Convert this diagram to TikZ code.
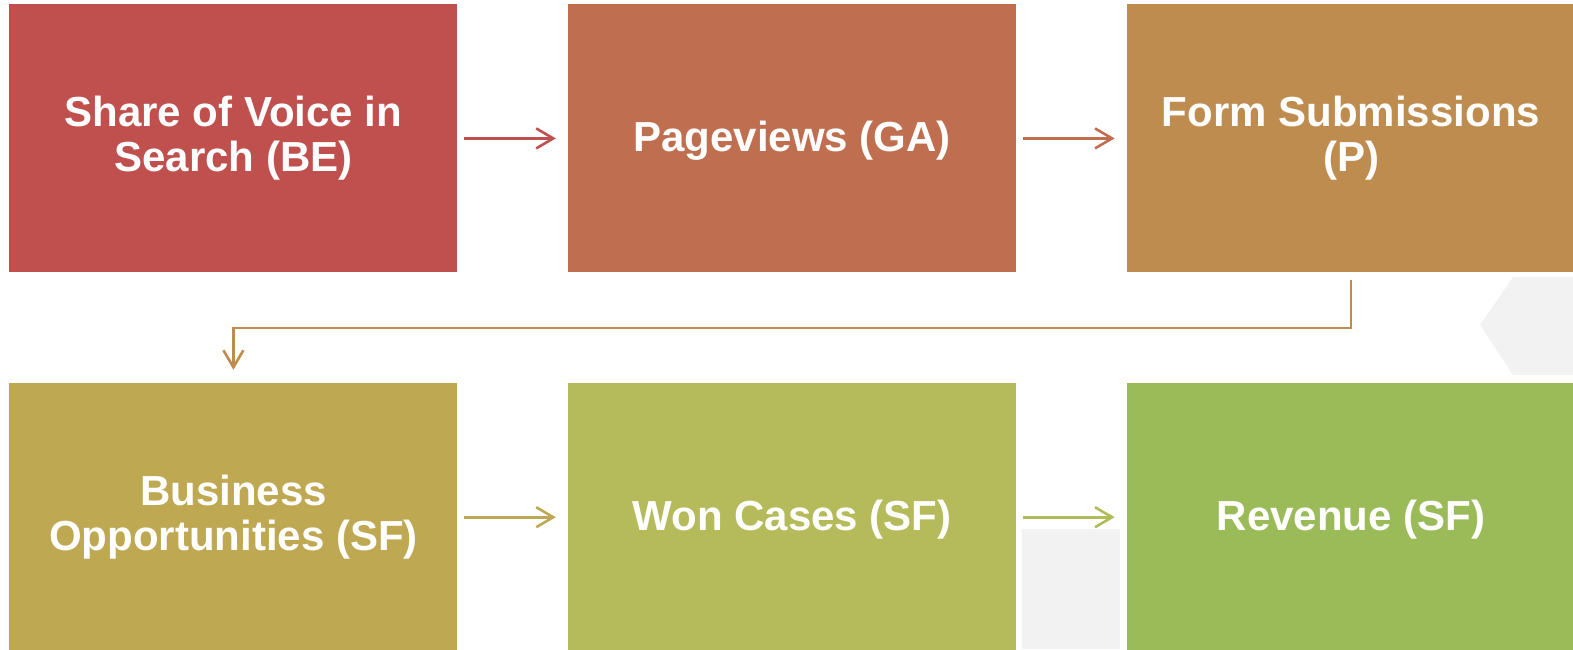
\documentclass[tikz,border=0pt]{standalone}
\usepackage{fontspec}
\setmainfont{Liberation Sans}
\usepackage{xcolor}
\usetikzlibrary{arrows.meta, positioning}

\definecolor{stepA}{RGB}{192,80,77}
\definecolor{stepB}{RGB}{192,110,80}
\definecolor{stepC}{RGB}{191,140,80}
\definecolor{stepD}{RGB}{190,168,82}
\definecolor{stepE}{RGB}{181,187,90}
\definecolor{stepF}{RGB}{155,187,89}
\definecolor{faint}{RGB}{242,242,242}

\begin{document}
\begin{tikzpicture}[
  x=0.5pt, y=-0.5pt,
  node distance=55.5pt and 55pt,
  stage/.style={minimum width=224pt, minimum height=134pt, inner sep=0pt,
                align=center, text=white,
                font=\fontsize{21}{22.5}\selectfont\bfseries,
                execute at begin node={\rule{0pt}{18pt}}},
  flow/.style={-{Straight Barb[length=8.5pt, width=10pt]}, line width=1.3pt,
               shorten <=3pt, shorten >=6pt},
]
\useasboundingbox (0,0) rectangle (1573,649);

% --- faint shapes sitting behind the boxes ---
\fill[faint] (1513,277) -- (1573,277) -- (1573,375) -- (1513,375) -- (1480,325) -- cycle;
\fill[faint] (1022,529) rectangle (1120,649);

% --- top row ---
\node[stage, fill=stepA, anchor=north west] (sov) at (9,4)
  {Share of Voice in\\Search (BE)};
\node[stage, fill=stepB, right=of sov] (views) {Pageviews (GA)};
\node[stage, fill=stepC, right=of views] (forms) {Form Submissions\\(P)};

% --- bottom row ---
\node[stage, fill=stepD, below=55pt of sov] (opps) {Business\\Opportunities (SF)};
\node[stage, fill=stepE, right=of opps] (won) {Won Cases (SF)};
\node[stage, fill=stepF, right=of won] (revenue) {Revenue (SF)};

% --- connectors ---
\draw[flow, stepA] (sov) -- (views);
\draw[flow, stepB] (views) -- (forms);
\draw[flow, stepC, shorten <=3.5pt, shorten >=6.5pt]
  (forms.south) -- ++(0,55) -| (opps.north);
\draw[flow, stepD] (opps) -- (won);
\draw[flow, stepE!85!stepF] (won) -- (revenue);

\end{tikzpicture}
\end{document}
